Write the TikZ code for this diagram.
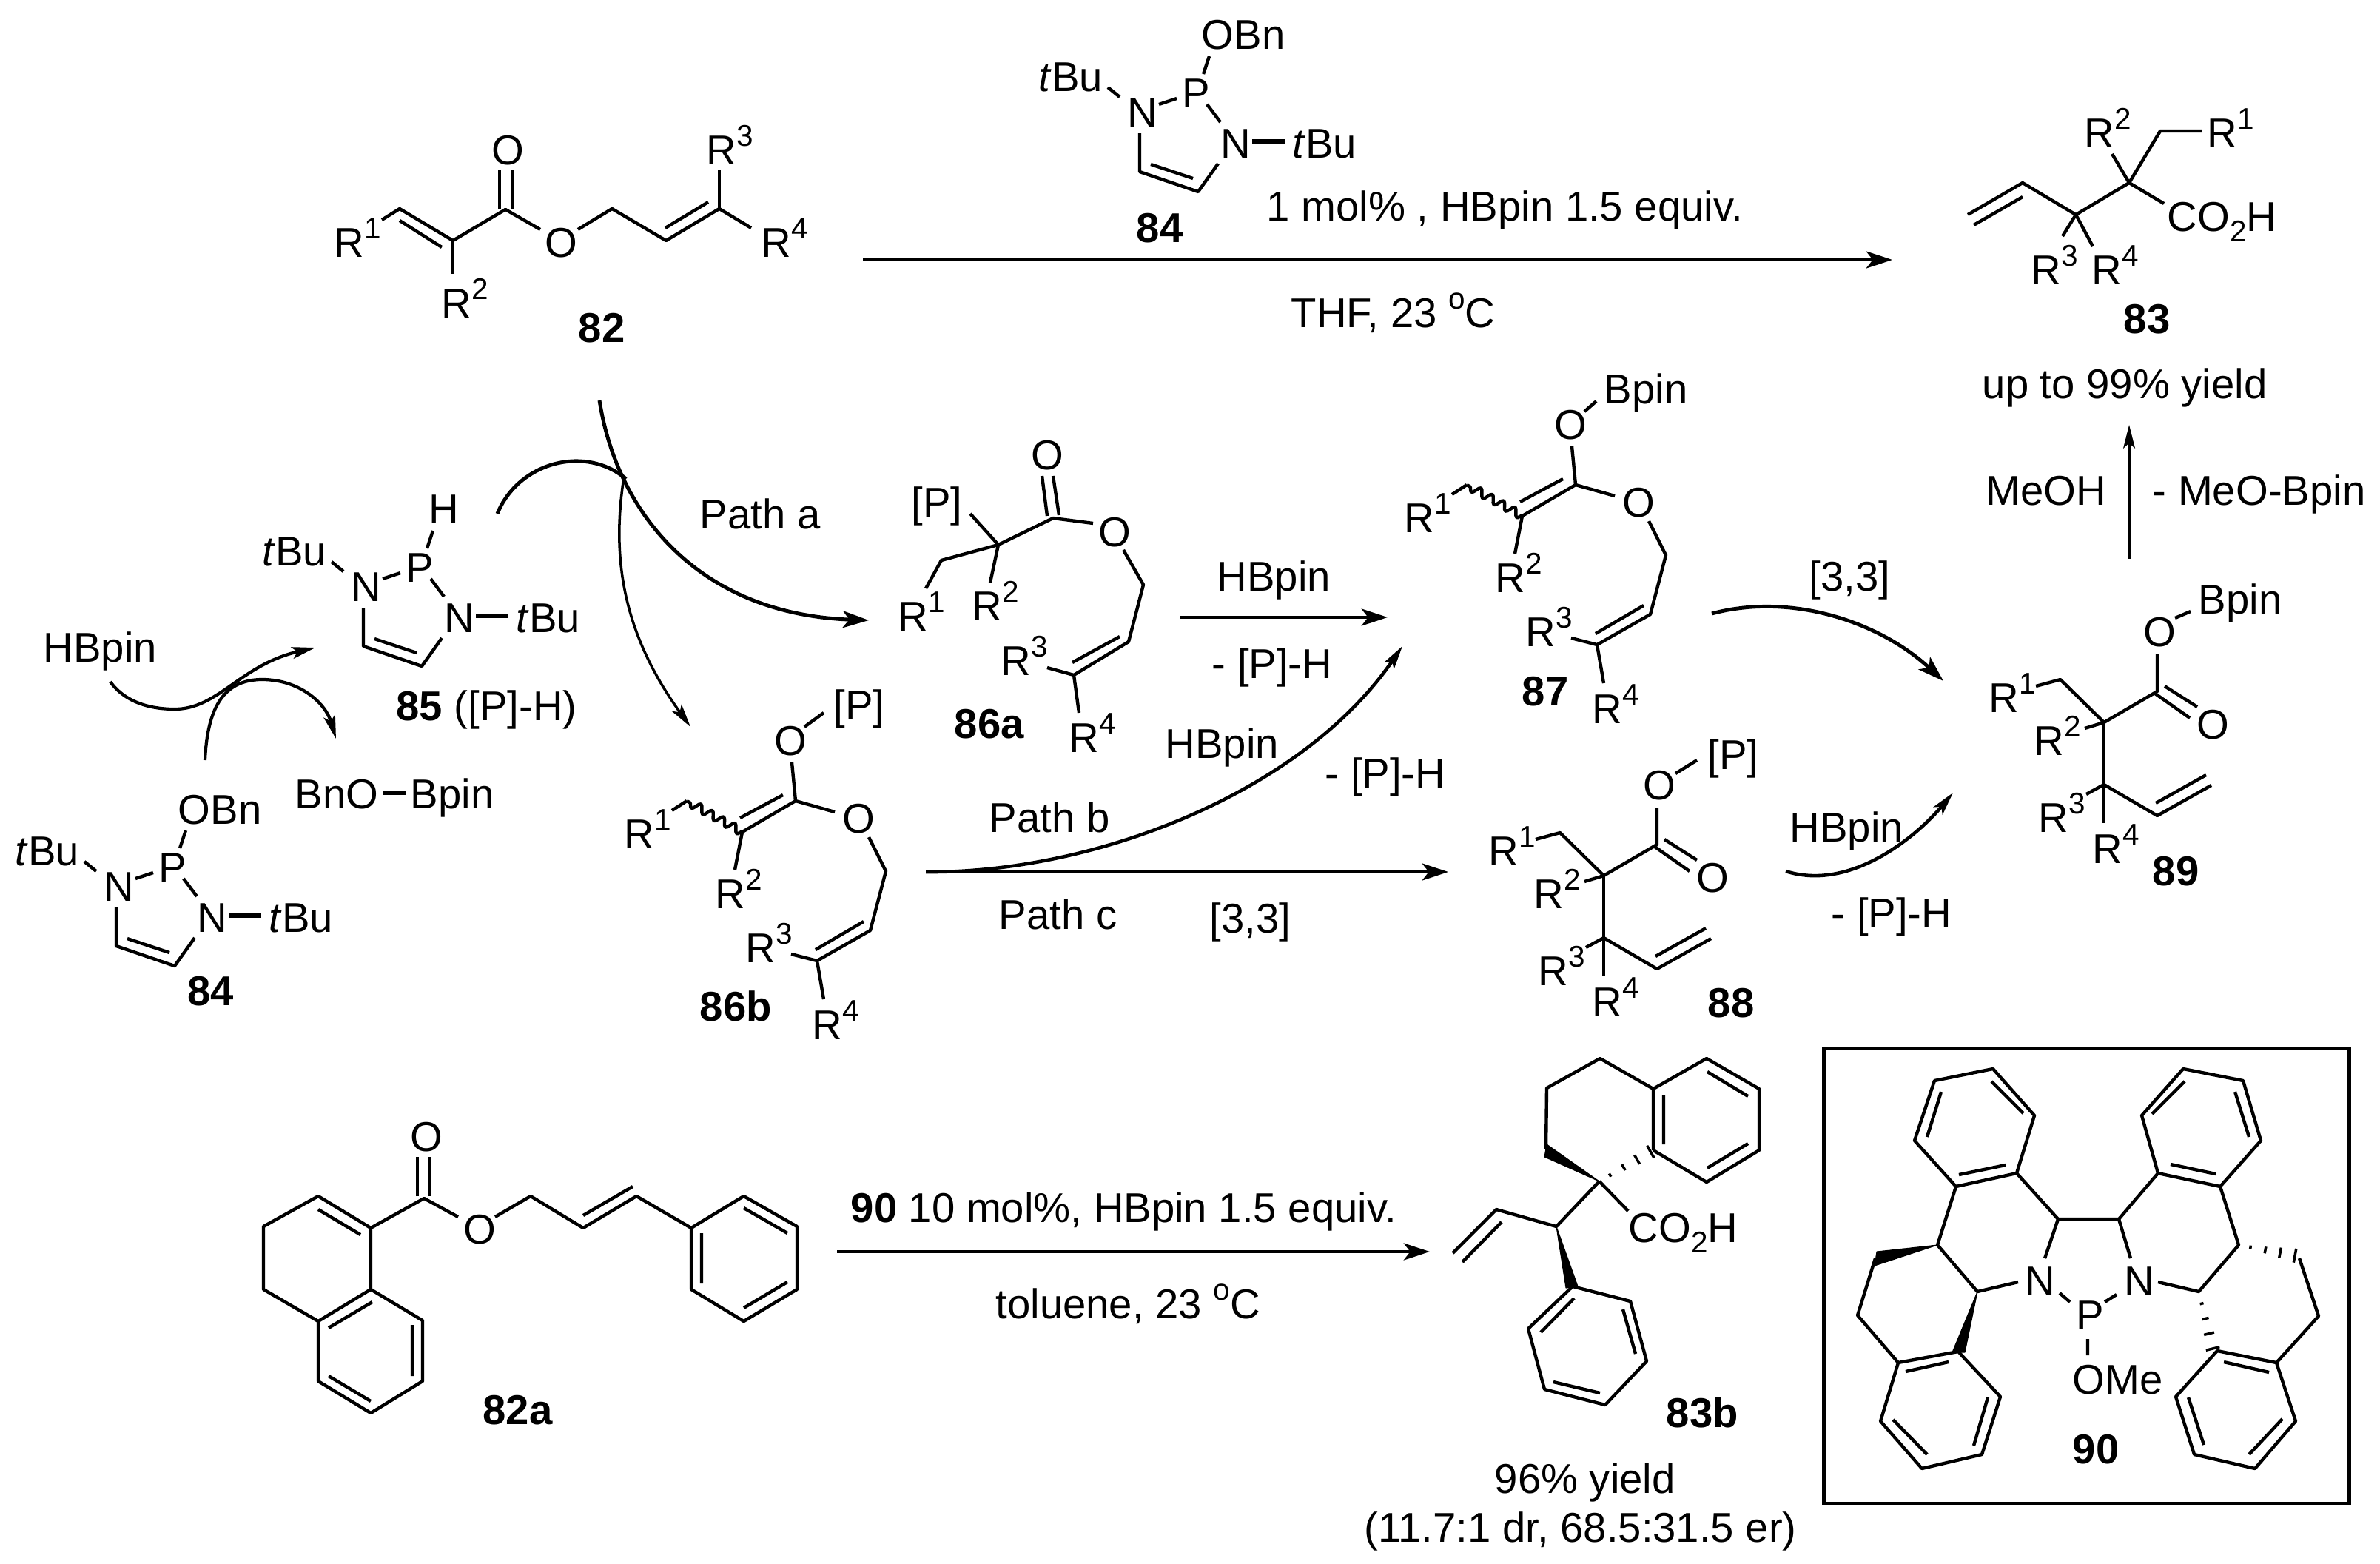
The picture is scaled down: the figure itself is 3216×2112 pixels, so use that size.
\documentclass[tikz,border=0pt]{standalone}
\usepackage{fontspec}
\setmainfont{Liberation Sans}
\usetikzlibrary{arrows.meta,calc,decorations.pathmorphing}
\newcommand{\Rn}[1]{R\raisebox{7pt}{\fontsize{11.5}{11.5}\selectfont #1}}
\newcommand{\degr}{\raisebox{7pt}{\fontsize{11.5}{11.5}\selectfont o}}
\newcommand{\subtwo}{\raisebox{-4pt}{\fontsize{11.5}{11.5}\selectfont 2}}
\newcommand{\tbu}{\textit{t}Bu}
\tikzset{
  bond/.style={line width=1.25pt,line join=round},
  fill wedge/.style={fill=black,draw=black,line width=.3pt,line join=round},
  lab/.style={anchor=base west,inner sep=0pt,font=\fontsize{16}{19}\selectfont},
  num/.style={lab,font=\fontsize{16}{19}\selectfont\bfseries},
  arr/.style={line width=1.4pt,-{Stealth[length=10pt,width=6.5pt,inset=2.5pt]}},
  thinarr/.style={line width=1pt,-{Stealth[length=9pt,width=4.5pt,inset=2pt]}},
}
%hashed bond between two coordinates
\newcommand{\hashbond}[2]{\foreach \t/\w in {.2/.7,.45/1.3,.7/2,.95/2.7}{\draw[line width=1pt] ($(#1)!\t!(#2)!\w pt!90:(#2)$)--($(#1)!\t!(#2)!\w pt!-90:(#2)$);}}
%diazaphospholene, origin at the left N
\newcommand{\dapring}{
  \node[lab] (n1) at (0,0) {N};
  \node[lab] (tb1) at (-120,-48) {\tbu};
  \node[lab] (p) at (74,-26) {P};
  \node[lab] (n2) at (126,42) {N};
  \node[lab] (tb2) at (223,42) {\tbu};
  \draw[bond] (-26,-53)--(-10,-40);
  \draw[bond] (43,-30)--(67,-38);
  \draw[bond] (111,-95)--(103,-71);
  \draw[bond] (108,-30)--(126,-6);
  \draw[bond,line width=1.6pt] (169,20)--(213,20);
  \draw[bond] (123,50)--(96,88)--(17,61)--(17,9);
  \draw[bond] (32,51)--(89,70);
}
%enol phosphite/boronate, in the place of 86b
\newcommand{\enolchain}{
  \node[lab] (r1) at (843,1146) {\Rn{1}};
  \node[lab] (r2) at (966,1227) {\Rn{2}};
  \node[lab] (r3) at (1007,1300) {\Rn{3}};
  \node[lab] (r4) at (1097,1404) {\Rn{4}};
  \node[lab] (o1) at (1046,1020) {O};
  \node[lab] (o2) at (1138,1125) {O};
  \draw[bond] (1070,1030)--(1075,1082)--(1003,1124);
  \draw[bond] (1058,1074)--(1000,1105);
  \draw[bond,decorate,decoration={snake,amplitude=1.6pt,segment length=5pt}] (1003,1124)--(928,1082);
  \draw[bond] (928,1082)--(908,1095);
  \draw[bond] (1003,1124)--(993,1175);
  \draw[bond] (1075,1082)--(1128,1097);
  \draw[bond] (1174,1131)--(1197,1177)--(1176,1257)--(1104,1298)--(1069,1289);
  \draw[bond] (1167,1245)--(1102,1283);
  \draw[bond] (1104,1298)--(1113,1350);
}
%rearranged ester, in the place of 88
\newcommand{\estchain}{
  \node[lab] (r1) at (2011,1169) {\Rn{1}};
  \node[lab] (r2) at (2072,1227) {\Rn{2}};
  \node[lab] (r3) at (2078,1331) {\Rn{3}};
  \node[lab] (r4) at (2151,1373) {\Rn{4}};
  \node[lab] (o1) at (2220,1080) {O};
  \node[lab] (o2) at (2292,1205) {O};
  \draw[bond] (2239,1091)--(2239,1141)--(2167,1183)--(2108,1125)--(2075,1134);
  \draw[bond] (2236,1144)--(2283,1177);
  \draw[bond] (2249,1134)--(2293,1162);
  \draw[bond] (2167,1183)--(2141,1191);
  \draw[bond] (2167,1183)--(2167,1319);
  \draw[bond] (2167,1267)--(2143,1280);
  \draw[bond] (2167,1267)--(2239,1309)--(2312,1268);
  \draw[bond] (2237,1292)--(2305,1254);
}
\begin{document}
\begin{tikzpicture}[x=0.01cm,y=-0.01cm]
\useasboundingbox (0,0) rectangle (3216,2112);
%82
\node[lab] (r1a) at (451,347) {\Rn{1}};
\node[lab] (r2a) at (596,429) {\Rn{2}};
\node[lab] (r3a) at (954,222) {\Rn{3}};
\node[lab] (r4a) at (1028,347) {\Rn{4}};
\node[lab] (oa) at (664,222) {O};
\node[lab] (oe) at (736,347) {O};
\node[num] (n82) at (781,462) {82};
\draw[bond] (516,297)--(540,282)--(612,325)--(683,283)--(730,310);
\draw[bond] (540,298)--(597,334);
\draw[bond] (612,325)--(612,370);
\draw[bond] (675,283)--(675,230) (692,283)--(692,230);
\draw[bond] (781,310)--(827,282)--(900,325)--(972,282)--(1015,308);
\draw[bond] (899,308)--(957,273);
\draw[bond] (972,282)--(972,230);
%84 over the arrow
\begin{scope}[shift={(1523,171)},name prefix=top-]
\dapring
\node[lab] (obn) at (100,-104) {OBn};
\end{scope}
\node[num] (n84a) at (1535,327) {84};
%83
\node[lab] (r1b) at (2982,199) {\Rn{1}};
\node[lab] (r2b) at (2816,199) {\Rn{2}};
\node[lab] (r3b) at (2744,384) {\Rn{3}};
\node[lab] (r4b) at (2826,384) {\Rn{4}};
\node[lab] (co2h) at (2928,312) {CO\subtwo H};
\node[num] (n83) at (2869,450) {83};
\draw[bond] (2659,290)--(2733,247)--(2805,290)--(2877,247)--(2919,177)--(2975,177);
\draw[bond] (2667,304)--(2733,266);
\draw[bond] (2877,247)--(2854,208);
\draw[bond] (2877,247)--(2924,275);
\draw[bond] (2805,290)--(2787,319);
\draw[bond] (2805,290)--(2828,333);
%main arrow
\coordinate (ms) at (1166,351);
\coordinate (me) at (2557,351);
\draw[arr] (ms)--(me);
\node[lab] (cat) at (1711,298) {1 mol\% , HBpin 1.5 equiv.};
\node[lab] (thf) at (1744,442) {THF, 23 \degr C};
\node[lab] (upto) at (2678,538) {up to 99\% yield};
\node[lab] (meoh) at (2683,682) {MeOH};
\node[lab] (meob) at (2908,682) {- MeO-Bpin};
\coordinate (ups) at (2877,755);
\coordinate (upe) at (2877,574);
\draw[thinarr] (ups)--(upe);
%85 and lower 84
\begin{scope}[shift={(474,812)},name prefix=pH-]
\dapring
\node[lab] (h) at (105,-105) {H};
\end{scope}
\node[num] (n85) at (535,973) {85 \mdseries ([P]-H)};
\begin{scope}[shift={(140,1217)},name prefix=low-]
\dapring
\node[lab] (obn) at (100,-104) {OBn};
\end{scope}
\node[num] (n84b) at (253,1358) {84};
\node[lab] (hb1) at (58,894) {HBpin};
\node[lab] (bno) at (398,1092) {BnO};
\node[lab] (bp1) at (554,1092) {Bpin};
\draw[bond,line width=1.6pt] (518,1071)--(549,1071);
%curved arrows of the catalyst cycle
\draw[thinarr,line width=1.2pt] (149,921) .. controls (170,950) and (205,958) .. (236,958) .. controls (295,958) and (325,898) .. (426,875);
\draw[thinarr,line width=1.2pt] (277,1027) .. controls (280,960) and (300,918) .. (354,918) .. controls (405,918) and (440,950) .. (454,998);
%paths from 82
\draw[arr] (810,541) .. controls (835,700) and (950,830) .. (1174,838);
\draw[thinarr] (843,645) .. controls (825,760) and (845,860) .. (933,982);
\draw[bond,line width=1.4pt] (672,694) .. controls (700,625) and (790,600) .. (846,647);
\node[lab] (pa) at (945,714) {Path a};
%86a
\node[lab] (pq) at (1231,698) {[P]};
\node[lab] (r1c) at (1213,852) {\Rn{1}};
\node[lab] (r2c) at (1313,838) {\Rn{2}};
\node[lab] (r3c) at (1352,912) {\Rn{3}};
\node[lab] (r4c) at (1444,1016) {\Rn{4}};
\node[lab] (oc) at (1393,634) {O};
\node[lab] (od) at (1484,738) {O};
\node[num] (n86a) at (1289,997) {86a};
\draw[bond] (1311,694)--(1349,736)--(1423,700)--(1477,707);
\draw[bond] (1408,643)--(1415,697) (1423,643)--(1431,696);
\draw[bond] (1349,736)--(1338,787);
\draw[bond] (1349,736)--(1272,757)--(1251,795);
\draw[bond] (1518,743)--(1545,790)--(1525,867)--(1451,912)--(1415,902);
\draw[bond] (1513,860)--(1449,895);
\draw[bond] (1451,912)--(1458,963);
%86a to 87
\coordinate (as) at (1594,834);
\coordinate (ae) at (1875,834);
\draw[arr] (as)--(ae);
\node[lab] (hb2) at (1644,798) {HBpin};
\node[lab] (ph1) at (1637,916) {- [P]-H};
%86b
\begin{scope}[name prefix=eb-]
\enolchain
\node[lab] (pe) at (1126,972) {[P]};
\draw[bond] (1087,982)--(1113,963);
\end{scope}
\node[num] (n86b) at (945,1379) {86b};
%87
\begin{scope}[shift={(1054,-427)},name prefix=ea-]
\enolchain
\node[lab] (bp) at (1113,972) {Bpin};
\draw[bond] (1087,983)--(1103,969);
\end{scope}
\node[num] (n87) at (2056,953) {87};
%path b and path c
\coordinate (bcs) at (1251,1178);
\coordinate (ce) at (1957,1178);
\coordinate (be) at (1895,873);
\draw[thinarr,line width=1.3pt] (bcs) .. controls (1480,1180) and (1760,1070) .. (be);
\draw[arr] (bcs)--(ce);
\node[lab] (pb) at (1336,1124) {Path b};
\node[lab] (pc) at (1349,1255) {Path c};
\node[lab] (s1) at (1634,1260) {[3,3]};
\node[lab] (hb3) at (1574,1024) {HBpin};
\node[lab] (ph2) at (1790,1064) {- [P]-H};
%88
\begin{scope}[name prefix=ec-]
\estchain
\node[lab] (pf) at (2307,1039) {[P]};
\draw[bond] (2264,1045)--(2293,1027);
\end{scope}
\node[num] (n88) at (2307,1374) {88};
%89
\begin{scope}[shift={(676,-207)},name prefix=ed-]
\estchain
\node[lab] (bq) at (2294,1036) {Bpin};
\draw[bond] (2263,1042)--(2284,1033);
\end{scope}
\node[num] (n89) at (2908,1196) {89};
%to 89
\draw[arr] (2313,829) .. controls (2420,800) and (2540,840) .. (2626,920);
\node[lab] (s2) at (2444,798) {[3,3]};
\draw[thinarr,line width=1.3pt] (2413,1177) .. controls (2500,1205) and (2590,1130) .. (2639,1071);
\node[lab] (hb4) at (2418,1137) {HBpin};
\node[lab] (ph3) at (2474,1253) {- [P]-H};
%82a
\node[lab] (og) at (554,1555) {O};
\node[lab] (oh) at (626,1680) {O};
\node[num] (n82a) at (652,1924) {82a};
\draw[bond] (501,1659)--(573,1619)--(619,1644);
\draw[bond] (564,1616)--(564,1563) (580,1616)--(580,1563);
\draw[bond] (669,1644)--(717,1616)--(788,1659)--(860,1616)--(934,1659);
\draw[bond] (788,1642)--(855,1603);
\draw[bond] (934,1659)--(1005,1616)--(1077,1657)--(1077,1742)--(1005,1785)--(934,1742)--cycle;
\draw[bond] (1005,1632)--(1064,1666) (1064,1732)--(1005,1767) (948,1666)--(948,1734);
\draw[bond] (501,1659)--(430,1616)--(356,1657)--(356,1742)--(430,1785)--(501,1742)--cycle;
\draw[bond] (430,1634)--(487,1668);
\draw[bond] (501,1742)--(571,1784)--(571,1866)--(501,1909)--(430,1866)--(430,1785);
\draw[bond] (503,1759)--(444,1794) (557,1790)--(557,1859) (444,1859)--(501,1893);
%bottom arrow
\coordinate (ds) at (1131,1691);
\coordinate (de) at (1932,1691);
\draw[arr] (ds)--(de);
\node[lab] (cat2) at (1149,1651) {\textbf{90} 10 mol\%, HBpin 1.5 equiv.};
\node[lab] (tol) at (1345,1781) {toluene, 23 \degr C};
%83b
\coordinate (q) at (2161,1596);
\coordinate (e) at (2234,1554);
\node[lab] (co2hb) at (2200,1678) {CO\subtwo H};
\node[num] (n83b) at (2251,1928) {83b};
\node[lab] (y96) at (2019,2017) {96\% yield};
\node[lab] (dr) at (1843,2083) {(11.7:1 dr, 68.5:31.5 er)};
\draw[bond] (2089,1552)--(2090,1470)--(2162,1430)--(2234,1471)--(2234,1554);
\draw[fill wedge] (q)--(2090,1546)--(2087,1563)--cycle;
\hashbond{q}{e}
\draw[bond] (2234,1471)--(2306,1430)--(2377,1471)--(2377,1554)--(2306,1597)--(2234,1554);
\draw[bond] (2307,1448)--(2362,1481) (2362,1545)--(2307,1578) (2248,1479)--(2248,1546);
\draw[bond] (q)--(2200,1636);
\draw[bond] (q)--(2103,1657)--(2022,1634)--(1963,1693);
\draw[bond] (2029,1651)--(1976,1705);
\draw[fill wedge] (2103,1657)--(2116,1740)--(2132,1738)--cycle;
\draw[bond] (2125,1738)--(2203,1758)--(2225,1839)--(2169,1898)--(2087,1877)--(2065,1795)--cycle;
\draw[bond] (2127,1754)--(2082,1800) (2193,1769)--(2210,1829) (2099,1867)--(2162,1882);
%box with 90
\draw[line width=1.4pt] (2464,1416) rectangle (3174,2031);
\node[lab] (nl) at (2736,1750) {N};
\node[lab] (nr) at (2870,1750) {N};
\node[lab] (pg) at (2805,1796) {P};
\node[lab] (ome) at (2800,1883) {OMe};
\node[num] (n90) at (2800,1977) {90};
\draw[bond] (2783,1747)--(2797,1759) (2844,1759)--(2860,1749) (2821,1809)--(2821,1831);
\draw[bond] (2763,1700)--(2781,1647)--(2863,1647)--(2879,1700);
%left half of 90
\draw[bond] (2781,1647)--(2725,1585);
\draw[bond] (2725,1585)--(2643,1603)--(2587,1541)--(2614,1460)--(2693,1444)--(2749,1507)--cycle;
\draw[bond] (2710,1574)--(2647,1587) (2604,1536)--(2623,1475) (2691,1461)--(2734,1504);
\draw[bond] (2643,1603)--(2618,1682)--(2672,1745)--(2727,1732);
\draw[fill wedge] (2618,1682)--(2536,1691)--(2533,1710)--cycle;
\draw[bond] (2534,1700)--(2510,1777)--(2565,1841);
\draw[fill wedge] (2672,1745)--(2638,1827)--(2655,1827)--cycle;
\draw[bond] (2646,1826)--(2565,1841)--(2541,1920)--(2597,1984)--(2678,1965)--(2703,1887)--cycle;
\draw[bond] (2575,1853)--(2633,1840) (2558,1918)--(2604,1965) (2667,1953)--(2686,1888);
%right half of 90
\coordinate (cr) at (3025,1682);
\coordinate (ch) at (3105,1697);
\coordinate (cs) at (2971,1745);
\coordinate (ct) at (2991,1826);
\draw[bond] (2863,1647)--(2916,1585);
\draw[bond] (2916,1585)--(3000,1603)--(3055,1541)--(3031,1460)--(2950,1444)--(2894,1507)--cycle;
\draw[bond] (2933,1573)--(2994,1586) (3039,1536)--(3020,1475) (2952,1461)--(2908,1505);
\draw[bond] (3000,1603)--(cr)--(cs)--(2916,1732);
\hashbond{cr}{ch}
\hashbond{cs}{ct}
\draw[bond] (3107,1700)--(3133,1778)--(3076,1841);
\draw[bond] (2996,1825)--(3076,1841)--(3102,1920)--(3047,1984)--(2965,1965)--(2940,1887)--cycle;
\draw[bond] (3005,1840)--(3066,1854) (3084,1917)--(3039,1965) (2978,1952)--(2957,1888);
\end{tikzpicture}
\end{document}
